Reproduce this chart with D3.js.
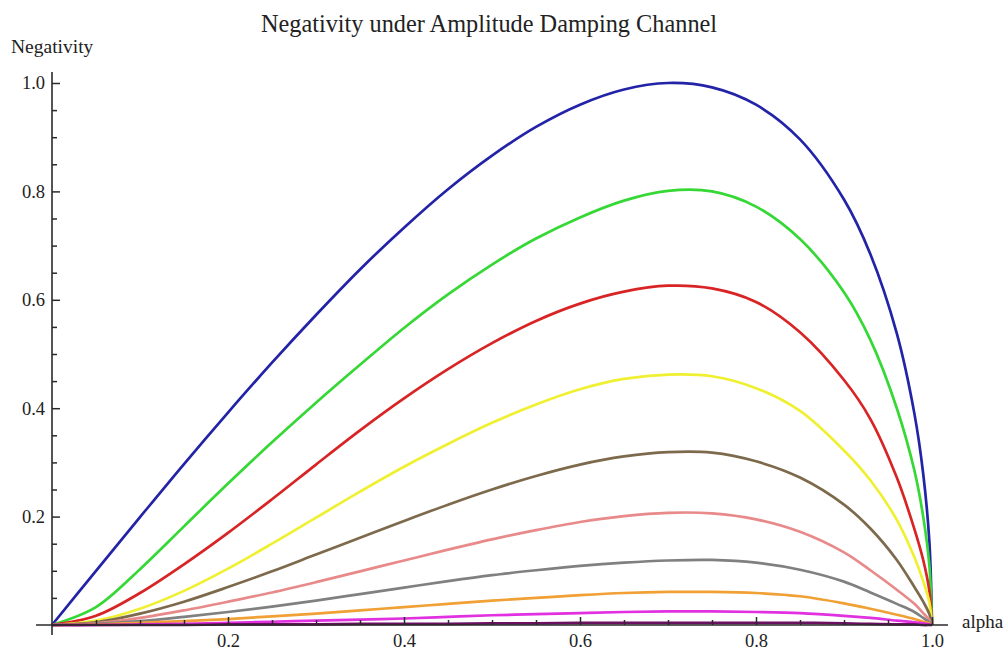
<!DOCTYPE html>
<html>
<head>
<meta charset="utf-8">
<script src="https://cdn.jsdelivr.net/npm/d3@7"></script>
<style>
  html, body { margin: 0; padding: 0; background: #fff; }
  svg { display: block; }
  text { font-family: "Liberation Serif", "DejaVu Serif", serif; fill: #222; }
</style>
</head>
<body>
<svg id="chart" width="1007" height="652"></svg>
<script>
// ---- data ----
const alpha = [0, 0.05, 0.1, 0.15, 0.2, 0.25, 0.3, 0.35, 0.4, 0.45, 0.5, 0.55, 0.6, 0.65, 0.7, 0.75, 0.8, 0.85, 0.9, 0.93, 0.96, 0.98, 0.99, 0.997, 1.0];

const blueVals    = [0, .100, .199, .297, .392, .484, .572, .656, .733, .804, .866, .919, .960, .988, 1.0, .992, .960, .896, .785, .684, .538, .390, .279, .154, 0];
const greenVals   = [0, .033, .103, .182, .261, .337, .410, .480, .548, .610, .665, .713, .752, .783, .801, .800, .772, .712, .614, .526, .400, .285, .200, .110, 0];
const redVals     = [0, .017, .059, .112, .170, .232, .296, .359, .418, .472, .520, .561, .593, .615, .626, .621, .596, .540, .452, .380, .272, .177, .120, .063, 0];
const yellowVals  = [0, .008, .030, .063, .104, .150, .198, .246, .292, .334, .373, .407, .435, .454, .462, .459, .437, .395, .322, .267, .194, .125, .081, .042, 0];
const brownVals   = [0, .005, .021, .043, .070, .099, .130, .161, .192, .222, .250, .275, .296, .311, .319, .318, .302, .272, .222, .178, .120, .070, .043, .020, 0];
const pinkVals    = [0, .003, .013, .027, .043, .060, .079, .099, .119, .139, .158, .175, .190, .201, .207, .206, .195, .172, .134, .101, .065, .039, .022, .009, 0];
const grayVals    = [0, .002, .007, .015, .024, .034, .045, .057, .069, .081, .092, .101, .109, .115, .119, .120, .115, .102, .080, .060, .039, .024, .013, .005, 0];
const orangeVals  = [0, .001, .004, .007, .011, .016, .021, .027, .033, .039, .045, .050, .055, .059, .061, .061, .059, .053, .040, .030, .019, .011, .006, .003, 0];
const magentaVals = [0, 0, .001, .002, .004, .006, .008, .010, .012, .015, .018, .020, .022, .024, .025, .025, .024, .022, .017, .013, .008, .005, .003, .001, 0];
const purpleVals  = [0, 0, 0, 0, .001, .001, .001, .002, .002, .002, .003, .003, .004, .004, .004, .004, .004, .004, .003, .002, .001, .001, 0, 0, 0];

const seriesNames  = ["blue", "green", "red", "yellow", "brown", "pink", "gray", "orange", "magenta", "purple"];
const seriesValues = [blueVals, greenVals, redVals, yellowVals, brownVals, pinkVals, grayVals, orangeVals, magentaVals, purpleVals];
const seriesColors = ["#2323a8", "#35d835", "#d82424", "#f0f032", "#7d6a4c", "#e88a8a", "#808080", "#f0a035", "#e030e0", "#6a1060"];

const xMajorTicks = [0.2, 0.4, 0.6, 0.8, 1.0];
const yMajorTicks = [0.2, 0.4, 0.6, 0.8, 1.0];
const minorTicks  = [0.05, 0.1, 0.15, 0.25, 0.3, 0.35, 0.45, 0.5, 0.55, 0.65, 0.7, 0.75, 0.85, 0.9, 0.95];

const titleText = "Negativity under Amplitude Damping Channel";
const yLabelText = "Negativity";
const xLabelText = "alpha";

// ---- drawing ----
const svg = d3.select("#chart");
const x = d3.scaleLinear().domain([0, 1]).range([52, 932]);
const y = d3.scaleLinear().domain([0, 1]).range([625, 83]);

const line = d3.line()
  .x((d) => x(d[0]))
  .y((d) => y(d[1]))
  .curve(d3.curveCatmullRom.alpha(0.5));

const curvesG = svg.append("g");
seriesValues.forEach((vals, i) => {
  const pts = alpha.map((a, j) => [a, vals[j]]);
  curvesG.append("path")
    .datum(pts)
    .attr("class", "curve " + seriesNames[i])
    .attr("fill", "none")
    .attr("stroke", seriesColors[i])
    .attr("stroke-width", 2.7)
    .attr("stroke-linejoin", "round")
    .attr("d", line);
});

// axes
const fmt = d3.format(".1f");
const axisColor = "#2a2a2a";

const xMajor = svg.append("g").attr("transform", `translate(0,${y(0)})`)
  .call(d3.axisBottom(x).tickValues(xMajorTicks).tickFormat(fmt).tickSizeInner(-8).tickSizeOuter(0).tickPadding(9));
const xMinor = svg.append("g").attr("transform", `translate(0,${y(0)})`)
  .call(d3.axisBottom(x).tickValues(minorTicks).tickFormat("").tickSizeInner(-5).tickSizeOuter(0));
const yMajor = svg.append("g").attr("transform", `translate(${x(0)},0)`)
  .call(d3.axisLeft(y).tickValues(yMajorTicks).tickFormat(fmt).tickSizeInner(-8).tickSizeOuter(0).tickPadding(7));
const yMinor = svg.append("g").attr("transform", `translate(${x(0)},0)`)
  .call(d3.axisLeft(y).tickValues(minorTicks).tickFormat("").tickSizeInner(-5).tickSizeOuter(0));

[xMajor, xMinor, yMajor, yMinor].forEach((g) => {
  g.select(".domain").remove();
  g.selectAll(".tick line").attr("stroke", axisColor).attr("stroke-width", 1.5);
  g.selectAll(".tick text")
    .attr("font-family", "'Liberation Serif', serif")
    .attr("font-size", 18.5)
    .attr("fill", "#333");
});

// axis lines (extend slightly beyond the origin, like the reference)
svg.append("line")
  .attr("x1", x(0) - 16).attr("x2", x(1) + 16)
  .attr("y1", y(0)).attr("y2", y(0))
  .attr("stroke", axisColor).attr("stroke-width", 1.6);
svg.append("line")
  .attr("x1", x(0)).attr("x2", x(0))
  .attr("y1", y(0) + 10).attr("y2", y(1) - 11)
  .attr("stroke", axisColor).attr("stroke-width", 1.6);

// labels
svg.append("text")
  .attr("x", 489).attr("y", 32)
  .attr("text-anchor", "middle")
  .attr("font-size", 24.3)
  .text(titleText);

svg.append("text")
  .attr("x", 11).attr("y", 53)
  .attr("font-size", 19.5)
  .text(yLabelText);

svg.append("text")
  .attr("x", 962).attr("y", 628)
  .attr("font-size", 19)
  .text(xLabelText);
</script>
</body>
</html>
